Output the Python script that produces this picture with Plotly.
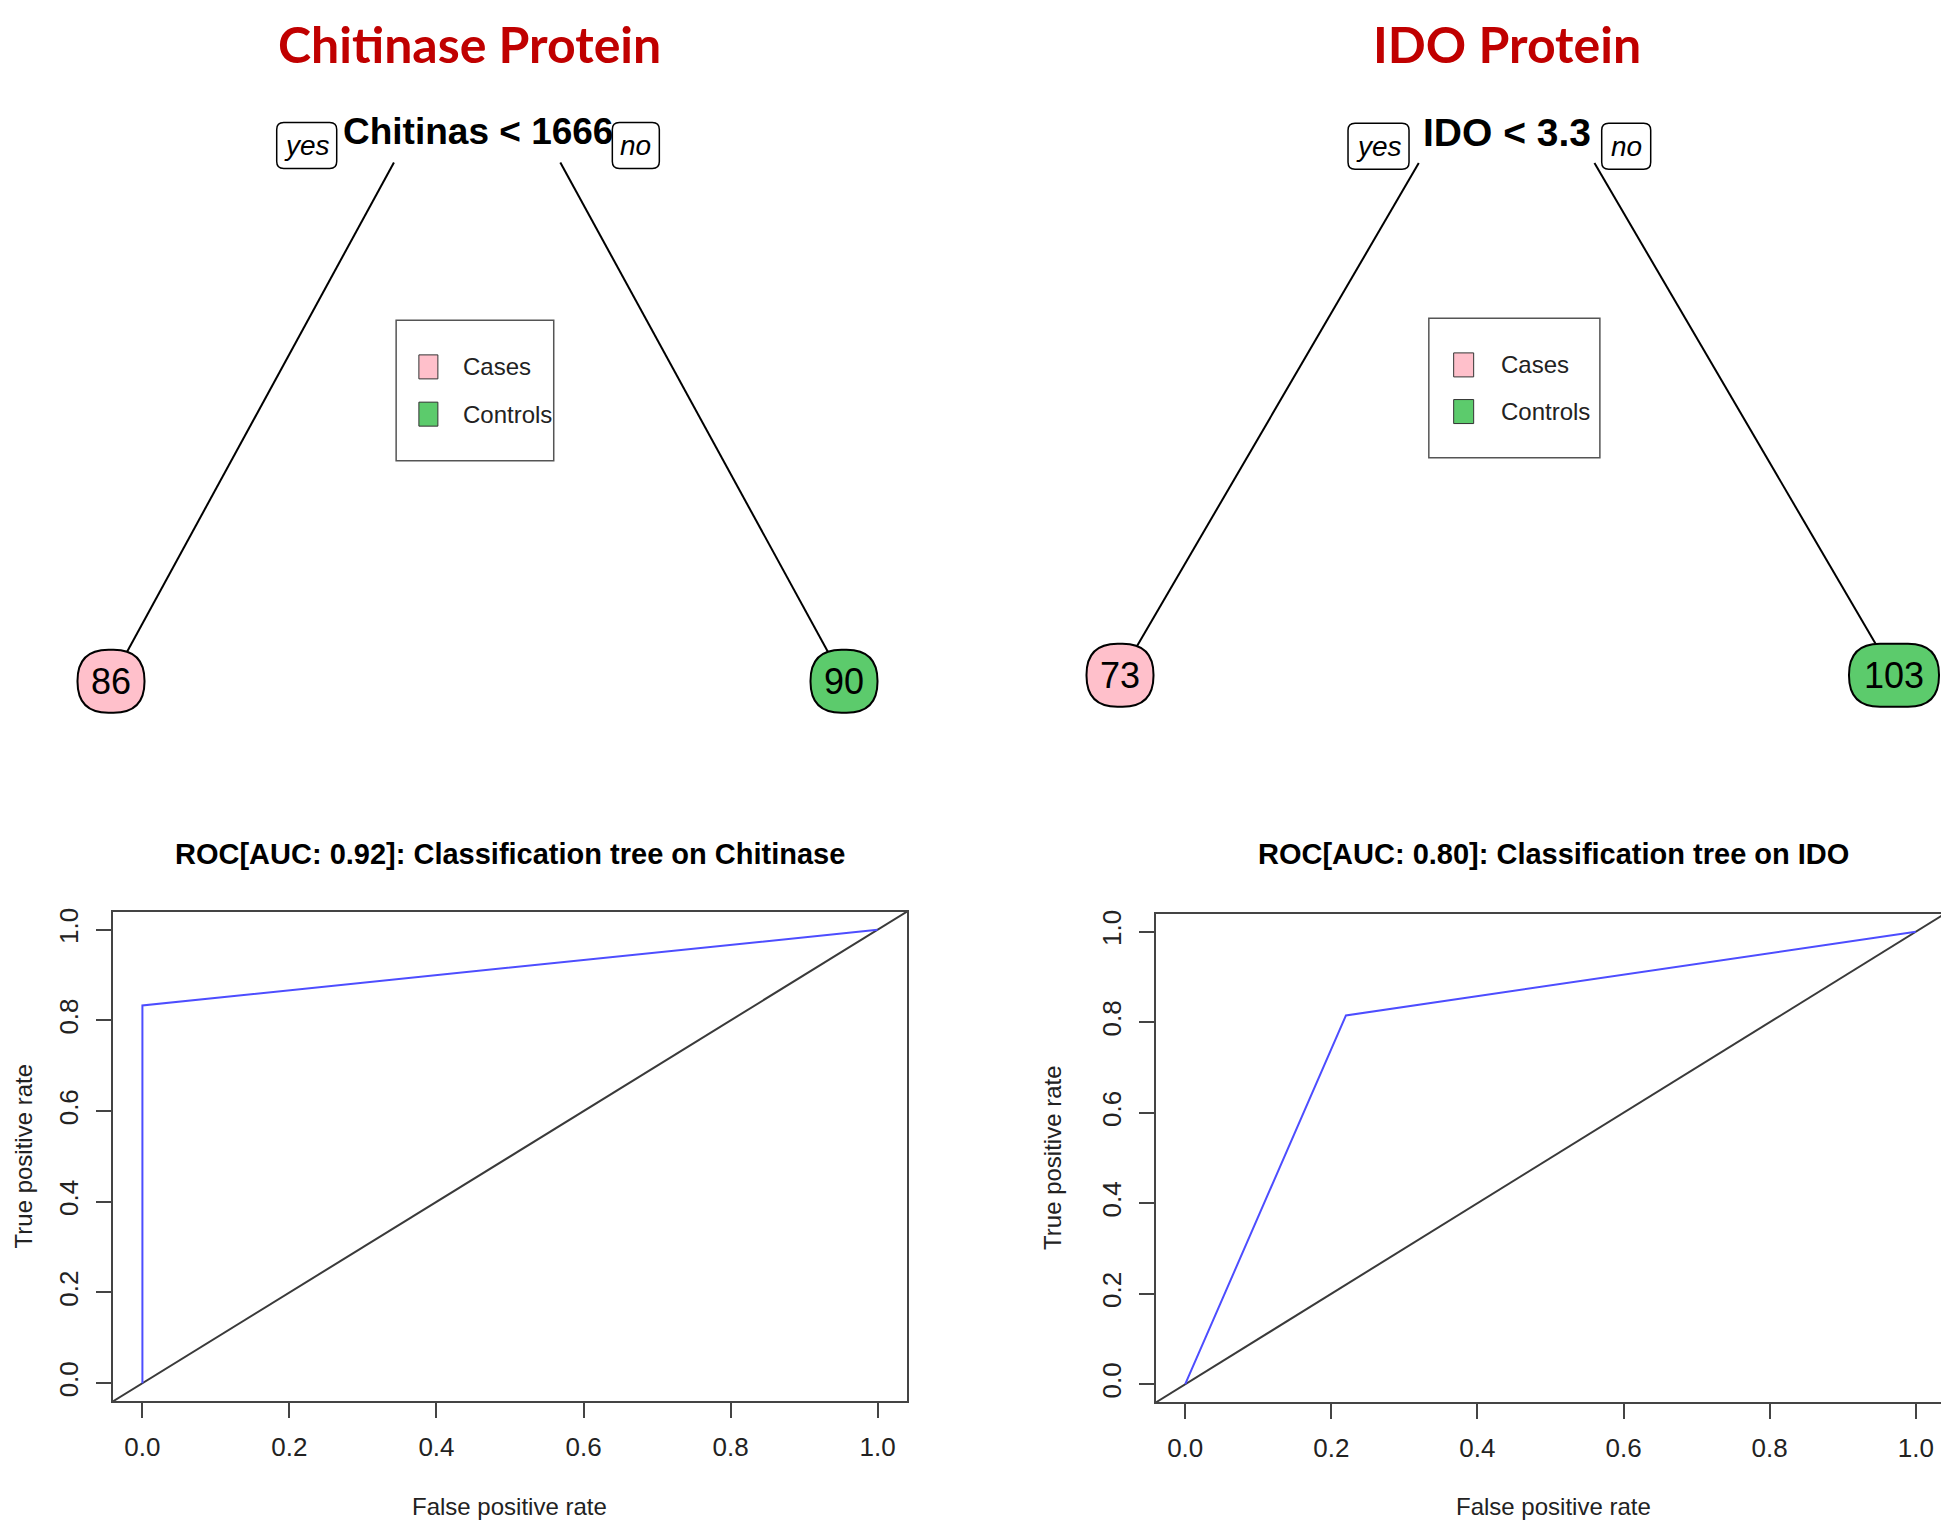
import plotly.graph_objects as go

W, H = 1949, 1523          # browser window
OFF = 8                    # default page margin around the plot div
FW, FH = W - OFF, H - OFF  # figure size so that it ends at the window edge
SANS = "Liberation Sans, Arial, Helvetica, sans-serif"
TITLE_FONT = "Lato, Open Sans, sans-serif"

# ---- data ----
panel_titles = ["Chitinase Protein", "IDO Protein"]
split_labels = ["Chitinas < 1666", "IDO < 3.3"]
leaf_counts = [[86, 90], [73, 103]]
leaf_classes = [["Cases", "Controls"], ["Cases", "Controls"]]
class_names = ["Cases", "Controls"]
roc_markers = ["Chitinase", "IDO"]
roc_auc = [0.92, 0.80]
roc_fpr = [[0.0, 0.0, 1.0], [0.0, 0.22, 1.0]]
roc_tpr = [[0.0, 0.833, 1.0], [0.0, 0.815, 1.0]]
tick_vals = [0.0, 0.2, 0.4, 0.6, 0.8, 1.0]

# ---- styles ----
class_colors = {"Cases": "#FFC0CB", "Controls": "#5CCB6C"}
RED = "#C00000"
BOX = "#444444"

# pixel frames of each panel, in window pixels (layout only)
tree_frames = [
    dict(px0=OFF, px1=975, xl=111, xr=844, yleaf=679, yroot=128,
         yes_u=0.267, no_u=0.716, yes_w=60, no_w=47,
         leg=(0.389, 0.604, 0.401, 0.657), sw_u=0.433, txt_u=0.477,
         sw_w=19, root_size=37, title_x=469),
    dict(px0=975, px1=W, xl=1120, xr=1894, yleaf=673, yroot=129,
         yes_u=0.334, no_u=0.654, yes_w=61, no_w=49,
         leg=(0.399, 0.620, 0.401, 0.658), sw_u=0.444, txt_u=0.490,
         sw_w=20, root_size=39, title_x=1507),
]
roc_frames = [
    dict(x0=113, x1=907, y0=910, y1=1401, title_x=510, xlab_x=509, ylab_x=23),
    dict(x0=1156, x1=1945, y0=912, y1=1402, title_x=1553, xlab_x=1553, ylab_x=1053),
]


def px_x(p):
    return (p - OFF) / FW


def px_y(p):
    return 1 - (p - OFF) / FH


def rrect(w, h, r):
    x0, x1, y0, y1 = -w / 2, w / 2, -h / 2, h / 2
    return (f"M{x0 + r},{y0} L{x1 - r},{y0} Q{x1},{y0} {x1},{y0 + r} "
            f"L{x1},{y1 - r} Q{x1},{y1} {x1 - r},{y1} L{x0 + r},{y1} "
            f"Q{x0},{y1} {x0},{y1 - r} L{x0},{y0 + r} Q{x0},{y0} {x0 + r},{y0} Z")


fig = go.Figure()
shapes = []
annotations = []
layout_axes = {}

for i in range(2):
    f = tree_frames[i]
    xa, ya = f"x{i + 1}", f"y{i + 1}"
    xkey = "xaxis" if i == 0 else f"xaxis{i + 1}"
    ykey = "yaxis" if i == 0 else f"yaxis{i + 1}"
    # tree coords: leaves at u=0/1, v=0 ; root at u=0.5, v=1
    sx = f["xr"] - f["xl"]
    sy = f["yleaf"] - f["yroot"]
    u0 = (f["px0"] - f["xl"]) / sx
    u1 = (f["px1"] - f["xl"]) / sx
    v0 = (f["yleaf"] - 760) / sy
    v1 = (f["yleaf"] - OFF) / sy
    layout_axes[xkey] = dict(domain=[px_x(f["px0"]), px_x(f["px1"])], range=[u0, u1],
                             visible=False, anchor=ya, fixedrange=True)
    layout_axes[ykey] = dict(domain=[px_y(760), 1], range=[v0, v1], visible=False,
                             anchor=xa, fixedrange=True)

    # branches
    tops_u = [0.386, 0.613]
    for j in range(2):
        fig.add_trace(go.Scatter(x=[tops_u[j], j], y=[0.944, 0], mode="lines",
                                 line=dict(color="black", width=2), xaxis=xa, yaxis=ya,
                                 hoverinfo="skip", showlegend=False))

    # leaves
    for j in range(2):
        n = leaf_counts[i][j]
        w = 21 + 23 * len(str(n))
        shapes.append(dict(type="path", xref=xa, yref=ya, xsizemode="pixel", ysizemode="pixel",
                           xanchor=j, yanchor=0, path=rrect(w, 63, 31),
                           fillcolor=class_colors[leaf_classes[i][j]],
                           line=dict(color="black", width=2)))
        annotations.append(dict(x=j, y=0, xref=xa, yref=ya, text=str(n), showarrow=False,
                                font=dict(family=SANS, size=36, color="black"),
                                xanchor="center", yanchor="middle"))

    # split label + yes/no
    annotations.append(dict(x=0.5, y=1, xref=xa, yref=ya, text=f"<b>{split_labels[i]}</b>",
                            showarrow=False, font=dict(family=SANS, size=f["root_size"], color="black"),
                            xanchor="center", yanchor="middle"))
    for u, w, t in [(f["yes_u"], f["yes_w"], "yes"), (f["no_u"], f["no_w"], "no")]:
        shapes.append(dict(type="path", xref=xa, yref=ya, xsizemode="pixel", ysizemode="pixel",
                           xanchor=u, yanchor=0.975, path=rrect(w, 46, 7),
                           fillcolor="white", line=dict(color="black", width=1.5)))
        annotations.append(dict(x=u, y=0.975, xref=xa, yref=ya, text=f"<i>{t}</i>",
                                showarrow=False, font=dict(family=SANS, size=28, color="black"),
                                xanchor="center", yanchor="middle"))

    # legend
    lx0, lx1, ly0, ly1 = f["leg"]
    shapes.append(dict(type="rect", xref=xa, yref=ya, x0=lx0, x1=lx1, y0=ly0, y1=ly1,
                       line=dict(color="#555555", width=1.5), fillcolor="rgba(0,0,0,0)"))
    for k, cname in enumerate(class_names):
        vv = 0.572 - 0.086 * k
        shapes.append(dict(type="rect", xref=xa, yref=ya, xsizemode="pixel", ysizemode="pixel",
                           xanchor=f["sw_u"], yanchor=vv, x0=-f["sw_w"] / 2, x1=f["sw_w"] / 2,
                           y0=-12, y1=12, fillcolor=class_colors[cname],
                           line=dict(color="#333333", width=1)))
        annotations.append(dict(x=f["txt_u"], y=vv, xref=xa, yref=ya, text=cname,
                                showarrow=False, font=dict(family=SANS, size=24, color="#222222"),
                                xanchor="left", yanchor="middle"))

    # panel title
    annotations.append(dict(x=px_x(f["title_x"]), y=1, xref="paper", yref="paper",
                            text=f"<b>{panel_titles[i]}</b>", showarrow=False,
                            font=dict(family=TITLE_FONT, size=50, color=RED),
                            xanchor="center", yanchor="top"))

for i in range(2):
    r = roc_frames[i]
    xa, ya = f"x{i + 3}", f"y{i + 3}"
    lo, hi = -0.04, 1.04
    axis_common = dict(range=[lo, hi], tickvals=tick_vals,
                       ticktext=[f"{t:.1f}" for t in tick_vals],
                       ticks="outside", ticklen=15, tickwidth=2, tickcolor=BOX,
                       showline=True, mirror=True, linewidth=2, linecolor=BOX,
                       showgrid=False, zeroline=False, fixedrange=True,
                       tickfont=dict(family=SANS, size=26, color="#222222"))
    layout_axes[f"xaxis{i + 3}"] = dict(domain=[px_x(r["x0"]), px_x(r["x1"])], anchor=ya,
                                         ticklabelstandoff=6, **axis_common)
    layout_axes[f"yaxis{i + 3}"] = dict(domain=[px_y(r["y1"]), px_y(r["y0"])], anchor=xa,
                                         tickangle=-90, ticklabelstandoff=8, **axis_common)

    # chance diagonal (abline 0,1) across the whole plotting region
    fig.add_trace(go.Scatter(x=[lo, hi], y=[lo, hi], mode="lines",
                             line=dict(color="#3a3a3a", width=2), xaxis=xa, yaxis=ya,
                             hoverinfo="skip", showlegend=False))
    fig.add_trace(go.Scatter(x=roc_fpr[i], y=roc_tpr[i], mode="lines",
                             line=dict(color="#4D4DFF", width=2), xaxis=xa, yaxis=ya,
                             showlegend=False))

    annotations.append(dict(x=px_x(r["title_x"]), y=px_y(852), xref="paper", yref="paper",
                            text=f"<b>ROC[AUC: {roc_auc[i]:.2f}]: Classification tree on {roc_markers[i]}</b>",
                            showarrow=False, font=dict(family=SANS, size=29, color="black"),
                            xanchor="center", yanchor="middle"))
    annotations.append(dict(x=px_x(r["xlab_x"]), y=px_y(1506), xref="paper", yref="paper",
                            text="False positive rate", showarrow=False,
                            font=dict(family=SANS, size=24, color="#222222"),
                            xanchor="center", yanchor="middle"))
    annotations.append(dict(x=px_x(r["ylab_x"]), y=px_y((r["y0"] + r["y1"]) / 2),
                            xref="paper", yref="paper", text="True positive rate",
                            showarrow=False, textangle=-90,
                            font=dict(family=SANS, size=24, color="#222222"),
                            xanchor="center", yanchor="middle"))

fig.update_layout(width=FW, height=FH, margin=dict(l=0, r=0, t=0, b=0),
                  paper_bgcolor="white", plot_bgcolor="white",
                  shapes=shapes, annotations=annotations, **layout_axes)

fig.write_html("out.html")
